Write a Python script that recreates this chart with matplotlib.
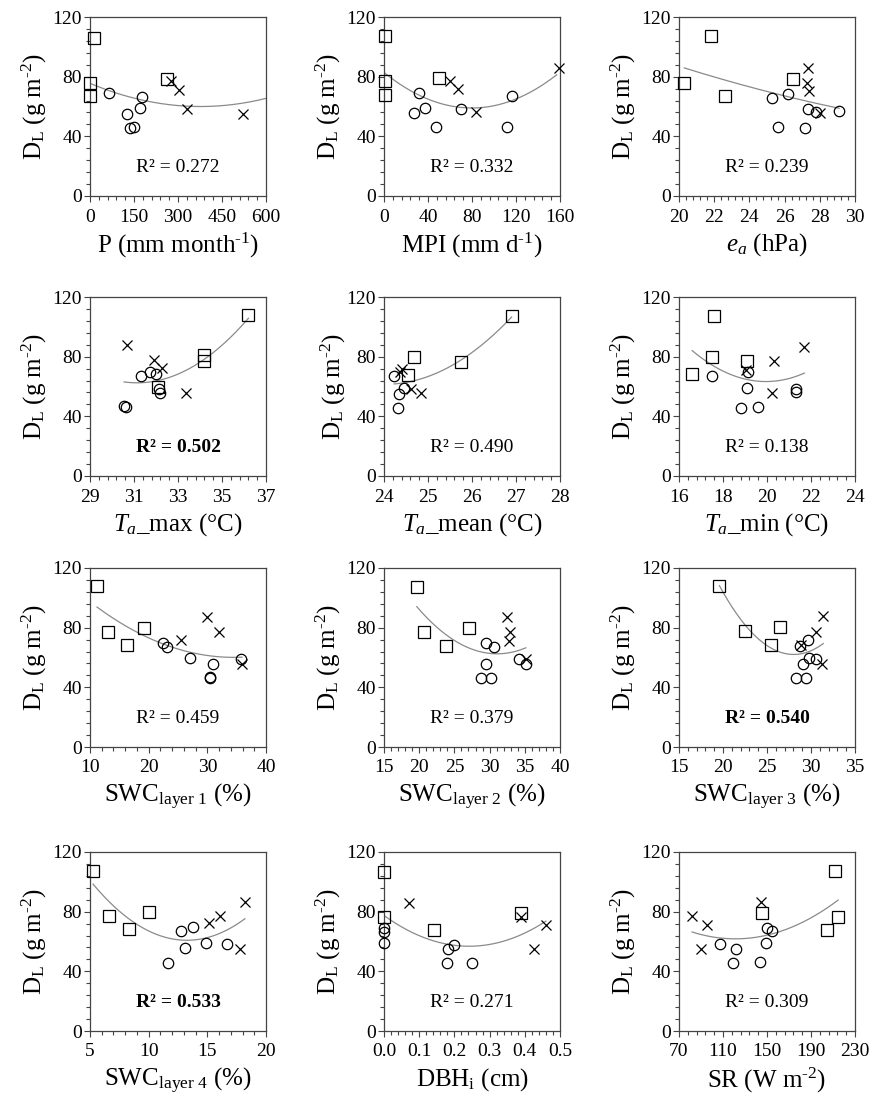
import numpy as np
import matplotlib
matplotlib.use("Agg")
import matplotlib.pyplot as plt
from matplotlib.ticker import MultipleLocator, AutoMinorLocator, FormatStrFormatter

plt.rcParams['font.family'] = 'Liberation Serif'
plt.rcParams['mathtext.fontset'] = 'custom'
plt.rcParams['mathtext.rm'] = 'Liberation Serif'
plt.rcParams['mathtext.it'] = 'Liberation Serif:italic'
plt.rcParams['mathtext.bf'] = 'Liberation Serif:bold'

# D_L (g m-2) against each driver; sq / ci / cr = square, circle, cross groups
# P (mm month-1)
p_sq_x = [15, 263, 0, 0]
p_sq_y = [106, 78.5, 76, 67]
p_ci_x = [66, 126, 137, 149, 169, 176]
p_ci_y = [69, 55, 45.5, 46, 59, 66.5]
p_cr_x = [277, 303, 331, 523]
p_cr_y = [77, 71, 58, 55]

# MPI (mm d-1)
mpi_sq_x = [1, 1, 1, 50]
mpi_sq_y = [107, 77, 68, 79]
mpi_ci_x = [27, 31.5, 37.5, 47, 70, 111.5, 116]
mpi_ci_y = [55.5, 69, 59, 46, 58, 46.5, 67]
mpi_cr_x = [60, 67, 84, 159]
mpi_cr_y = [77, 71.5, 56, 86]

# e_a (hPa)
ea_sq_x = [20.3, 21.8, 22.6, 26.5]
ea_sq_y = [75.8, 107, 67.3, 78.5]
ea_ci_x = [25.26, 25.6, 26.2, 27.15, 27.35, 27.76, 29.1]
ea_ci_y = [66, 46, 68.4, 45.3, 58.3, 56, 57.2]
ea_cr_x = [27.35, 27.25, 27.4, 28.0]
ea_cr_y = [85.7, 76, 70.7, 55.6]

# Ta_max
tmax_sq_x = [36.2, 34.2, 34.2, 32.1]
tmax_sq_y = [108, 81, 77.3, 59.8]
tmax_ci_x = [30.55, 30.65, 31.3, 31.74, 32.0, 32.14, 32.2]
tmax_ci_y = [46.6, 46, 67.3, 69.8, 68.4, 58.4, 55.9]
tmax_cr_x = [30.7, 31.9, 32.25, 33.36]
tmax_cr_y = [87.5, 77.5, 72.3, 55.9]

# Ta_mean
tmean_sq_x = [26.9, 25.75, 24.69, 24.55]
tmean_sq_y = [107, 76.7, 79.6, 67.7]
tmean_ci_x = [24.23, 24.32, 24.34, 24.46]
tmean_ci_y = [66.8, 45.3, 55, 59]
tmean_cr_x = [24.36, 24.42, 24.62, 24.85]
tmean_cr_y = [70, 71.5, 58.3, 55.6]

# Ta_min
tmin_sq_x = [16.6, 17.5, 17.6, 19.1]
tmin_sq_y = [68.3, 79.5, 107, 76.9]
tmin_ci_x = [17.5, 18.8, 19.14, 19.1, 19.6, 21.3, 21.3]
tmin_ci_y = [67.2, 45.8, 69.4, 59.3, 46.3, 58.4, 56]
tmin_cr_x = [19.04, 20.3, 20.23, 21.7]
tmin_cr_y = [70.8, 76.9, 55.5, 86.3]

# SWC layer 1
swc1_sq_x = [11.2, 13.1, 16.3, 19.2]
swc1_sq_y = [107.8, 77.2, 68.6, 79.9]
swc1_ci_x = [22.4, 23.1, 27.0, 30.4, 30.5, 30.9, 35.8]
swc1_ci_y = [69.7, 67, 59.5, 46.6, 46.2, 55.5, 58.9]
swc1_cr_x = [25.5, 29.9, 32.0, 35.9]
swc1_cr_y = [72, 87.2, 77.2, 55.7]

# SWC layer 2
swc2_sq_x = [19.66, 20.75, 23.75, 27.1]
swc2_sq_y = [107.4, 77, 68, 80]
swc2_ci_x = [29.5, 30.6, 29.5, 28.8, 30.2, 34.2, 35.15]
swc2_ci_y = [69.8, 67, 55.6, 46.2, 46.2, 59.2, 55.6]
swc2_cr_x = [32.5, 32.9, 32.7, 35.1]
swc2_cr_y = [87, 77.2, 71, 59.2]

# SWC layer 3
swc3_sq_x = [19.6, 22.5, 25.5, 26.5]
swc3_sq_y = [108.2, 77.6, 68.6, 80.4]
swc3_ci_x = [28.7, 29.7, 29.1, 28.3, 29.4, 29.75, 30.6]
swc3_ci_y = [67.9, 72, 55.5, 46.4, 46.4, 60, 58.9]
swc3_cr_x = [28.9, 30.6, 31.4, 31.3]
swc3_cr_y = [68.6, 77.4, 87.6, 55.9]

# SWC layer 4
swc4_sq_x = [5.26, 6.65, 8.36, 10.0]
swc4_sq_y = [107.3, 77, 68.4, 79.7]
swc4_ci_x = [11.66, 12.74, 13.08, 13.82, 14.9, 16.7]
swc4_ci_y = [45.7, 67.2, 55.5, 69.5, 59.3, 58.2]
swc4_cr_x = [15.16, 16.07, 17.8, 18.2]
swc4_cr_y = [72.2, 77.4, 55.2, 86.5]

# DBH_i (cm)
dbh_sq_x = [0, 0, 0.141, 0.388]
dbh_sq_y = [106.5, 76.7, 67.7, 79]
dbh_ci_x = [0, 0, 0, 0.18, 0.182, 0.199, 0.251]
dbh_ci_y = [69, 66.6, 59, 45.5, 55, 57.6, 45.3]
dbh_cr_x = [0.072, 0.388, 0.425, 0.46]
dbh_cr_y = [85.9, 76.3, 55, 71.1]

# SR (W m-2)
sr_sq_x = [212, 214.6, 204.6, 145.2]
sr_sq_y = [107.3, 76.5, 67.9, 79.2]
sr_ci_x = [107.6, 121.4, 119.2, 143.7, 149.2, 149.8, 154.4]
sr_ci_y = [58.2, 55.2, 45.7, 46.2, 58.9, 69, 66.8]
sr_cr_x = [81.9, 95.4, 89.9, 144.9]
sr_cr_y = [77, 71.3, 55.2, 86.5]

x_labels = ["P (mm month$^{\\text{-1}}$)", "MPI (mm d$^{\\text{-1}}$)", "$e_a$ (hPa)",
            "$T_a$_max (°C)", "$T_a$_mean (°C)", "$T_a$_min (°C)",
            "SWC$_{\\mathrm{layer\\ 1}}$ (%)", "SWC$_{\\mathrm{layer\\ 2}}$ (%)",
            "SWC$_{\\mathrm{layer\\ 3}}$ (%)", "SWC$_{\\mathrm{layer\\ 4}}$ (%)",
            "DBH$_\\mathrm{i}$ (cm)", "SR (W m$^{\\text{-2}}$)"]
y_label = "D$_\\mathrm{L}$ (g m$^{\\text{-2}}$)"
x_limits = [(0, 600), (0, 160), (20, 30), (29, 37), (24, 28), (16, 24),
            (10, 40), (15, 40), (15, 35), (5, 20), (0, 0.5), (70, 230)]
x_steps = [150, 40, 2, 2, 1, 2, 10, 5, 5, 5, 0.1, 40]
r2_text = ["0.272", "0.332", "0.239", "0.502", "0.490", "0.138",
           "0.459", "0.379", "0.540", "0.533", "0.271", "0.309"]
r2_bold = [False, False, False, True, False, False,
           False, False, True, True, False, False]
# x range over which the quadratic trend is drawn (None = data range)
fit_range = [(0, 600), (0, 157), None, None, None, None,
             None, None, None, None, None, None]

panels = [
    (p_sq_x, p_sq_y, p_ci_x, p_ci_y, p_cr_x, p_cr_y),
    (mpi_sq_x, mpi_sq_y, mpi_ci_x, mpi_ci_y, mpi_cr_x, mpi_cr_y),
    (ea_sq_x, ea_sq_y, ea_ci_x, ea_ci_y, ea_cr_x, ea_cr_y),
    (tmax_sq_x, tmax_sq_y, tmax_ci_x, tmax_ci_y, tmax_cr_x, tmax_cr_y),
    (tmean_sq_x, tmean_sq_y, tmean_ci_x, tmean_ci_y, tmean_cr_x, tmean_cr_y),
    (tmin_sq_x, tmin_sq_y, tmin_ci_x, tmin_ci_y, tmin_cr_x, tmin_cr_y),
    (swc1_sq_x, swc1_sq_y, swc1_ci_x, swc1_ci_y, swc1_cr_x, swc1_cr_y),
    (swc2_sq_x, swc2_sq_y, swc2_ci_x, swc2_ci_y, swc2_cr_x, swc2_cr_y),
    (swc3_sq_x, swc3_sq_y, swc3_ci_x, swc3_ci_y, swc3_cr_x, swc3_cr_y),
    (swc4_sq_x, swc4_sq_y, swc4_ci_x, swc4_ci_y, swc4_cr_x, swc4_cr_y),
    (dbh_sq_x, dbh_sq_y, dbh_ci_x, dbh_ci_y, dbh_cr_x, dbh_cr_y),
    (sr_sq_x, sr_sq_y, sr_ci_x, sr_ci_y, sr_cr_x, sr_cr_y),
]

W, H = 880, 1098
fig = plt.figure(figsize=(W / 100, H / 100), dpi=100)

col_left = [90, 384, 679]
row_top = [17, 297, 568, 852]
ax_w, ax_h = 176, 179

for i, (sx, sy, cx, cy, rx, ry) in enumerate(panels):
    r, c = divmod(i, 3)
    ax = fig.add_axes([col_left[c] / W, 1 - (row_top[r] + ax_h) / H, ax_w / W, ax_h / H])

    # quadratic trend from all points
    all_x = np.array(sx + cx + rx, dtype=float)
    all_y = np.array(sy + cy + ry, dtype=float)
    coef = np.polyfit(all_x, all_y, 2)
    lo, hi = fit_range[i] if fit_range[i] else (all_x.min(), all_x.max())
    xx = np.linspace(lo, hi, 200)
    ax.plot(xx, np.polyval(coef, xx), color='#8a8a8a', lw=0.9, zorder=1)

    ax.plot(sx, sy, ls='none', marker='s', ms=8.5, mfc='none', mec='black', mew=0.9, clip_on=False, zorder=3)
    ax.plot(cx, cy, ls='none', marker='o', ms=7.5, mfc='none', mec='black', mew=0.9, clip_on=False, zorder=3)
    ax.plot(rx, ry, ls='none', marker='x', ms=7, mec='black', mew=0.9, clip_on=False, zorder=3)

    x0, x1 = x_limits[i]
    ax.set_xlim(x0, x1)
    ax.set_ylim(0, 120)
    ax.xaxis.set_major_locator(MultipleLocator(x_steps[i], offset=x0 % x_steps[i]))
    ax.xaxis.set_minor_locator(AutoMinorLocator(5))
    ax.yaxis.set_major_locator(MultipleLocator(40))
    ax.yaxis.set_minor_locator(AutoMinorLocator(5))
    if i == 10:
        ax.xaxis.set_major_formatter(FormatStrFormatter('%.1f'))

    for s in ax.spines.values():
        s.set_color('#444444')
        s.set_linewidth(0.9)
    ax.tick_params(which='both', direction='out', top=False, right=False, color='#444444', width=0.8)
    ax.tick_params(which='major', length=4, labelsize=14)
    ax.tick_params(which='minor', length=3)
    ax.tick_params(axis='x', pad=5)
    ax.tick_params(axis='y', pad=2)

    ax.set_xlabel(x_labels[i], fontsize=18, labelpad=4)
    ax.set_ylabel(y_label, fontsize=18, labelpad=-1 if i == 4 else 2)

    ax.text(0.5, 0.16, "R² = " + r2_text[i], transform=ax.transAxes, ha='center', va='center',
            fontsize=14, fontweight='bold' if r2_bold[i] else 'normal')

fig.savefig("out.png", dpi=100)
